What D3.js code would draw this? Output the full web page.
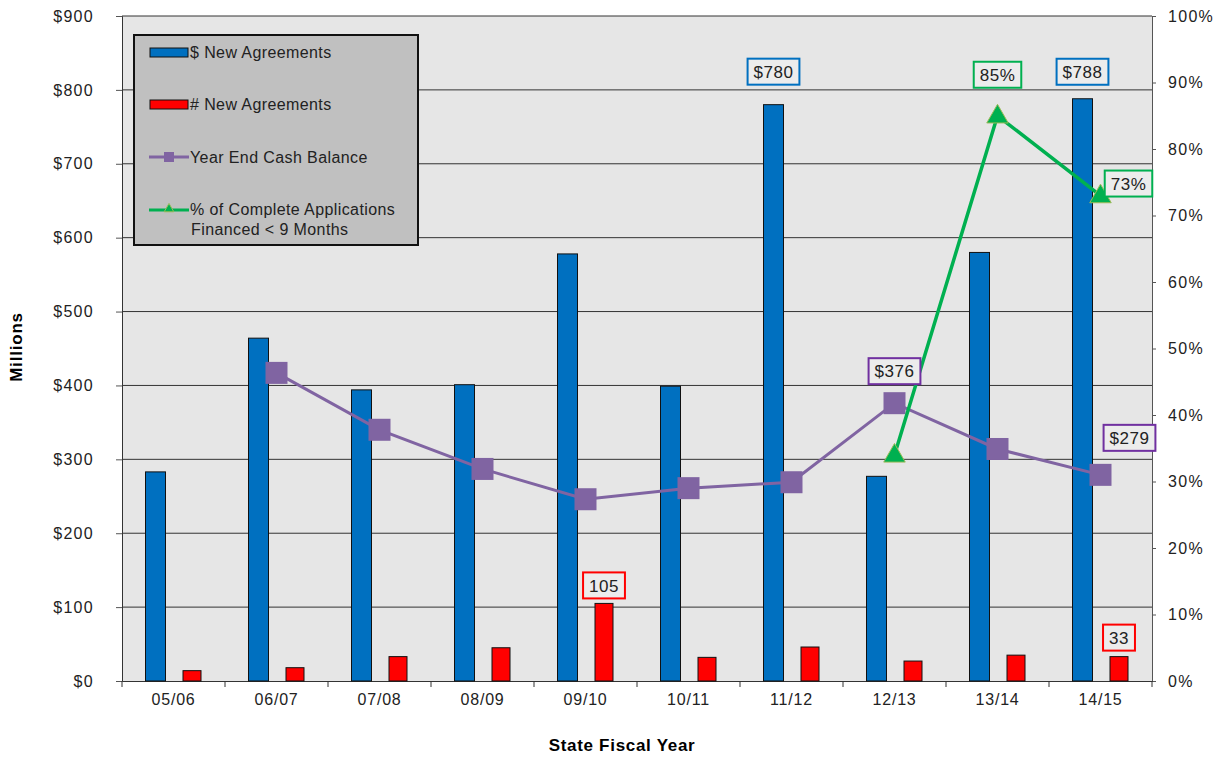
<!DOCTYPE html>
<html>
<head>
<meta charset="utf-8">
<script src="https://cdn.jsdelivr.net/npm/d3@7"></script>
<style>
  body { margin: 0; background: #fff; }
  text { font-family: "Liberation Sans", Arial, sans-serif; }
</style>
</head>
<body>
<svg id="chart" width="1220" height="760"></svg>
<script>
// data
var years = ["05/06", "06/07", "07/08", "08/09", "09/10", "10/11", "11/12", "12/13", "13/14", "14/15"];
var dollarNew = [283, 464, 394, 401, 578, 399, 780, 277, 580, 788];
var countNew = [14, 18, 33, 45, 105, 32, 46, 27, 35, 33];
var cashBalance = [null, 417, 340, 287, 246, 261, 269, 376, 314, 279];
var pctFinanced = [null, null, null, null, null, null, null, 34, 85, 73];
var leftTicks = [0, 100, 200, 300, 400, 500, 600, 700, 800, 900];
var rightTicks = [0, 10, 20, 30, 40, 50, 60, 70, 80, 90, 100];

var svg = d3.select("#chart");
var m = { left: 122, right: 1152, top: 16, bottom: 681 };

var x = d3.scaleBand().domain(years).range([m.left, m.right]);
var yL = d3.scaleLinear().domain([0, 900]).range([m.bottom, m.top]);
var yR = d3.scaleLinear().domain([0, 100]).range([m.bottom, m.top]);
var cx = d => x(d) + x.bandwidth() / 2;

// plot background
svg.append("rect")
    .attr("x", m.left).attr("y", m.top)
    .attr("width", m.right - m.left).attr("height", m.bottom - m.top)
    .attr("fill", "#e6e6e6");

// gridlines
svg.append("g").selectAll("line")
    .data(leftTicks.filter(d => d > 0))
    .enter().append("line")
    .attr("x1", m.left).attr("x2", m.right)
    .attr("y1", d => yL(d)).attr("y2", d => yL(d))
    .attr("stroke", "#333").attr("stroke-width", 1);

// axes
var axL = svg.append("g").attr("transform", "translate(" + m.left + ",0)")
    .call(d3.axisLeft(yL).tickValues(leftTicks).tickFormat(d => "$" + d).tickSize(6).tickPadding(22));
var axR = svg.append("g").attr("transform", "translate(" + m.right + ",0)")
    .call(d3.axisRight(yR).tickValues(rightTicks).tickFormat(d => d + "%").tickSize(4).tickPadding(12));
var axB = svg.append("g").attr("transform", "translate(0," + m.bottom + ")")
    .call(d3.axisBottom(x).tickSize(0).tickPadding(13));

[axL, axR, axB].forEach(function (g) {
    g.select(".domain").attr("stroke", "#555");
    g.selectAll(".tick line").attr("stroke", "#555");
    g.selectAll("text").attr("font-size", 16).attr("fill", "#222")
        .attr("font-family", "Liberation Sans, Arial, sans-serif").attr("letter-spacing", "1.3px");
});
axB.selectAll("text").attr("letter-spacing", "0.8px");
axL.select(".domain").attr("stroke", "#333");
axB.select(".domain").attr("stroke", "#333");

// x axis ticks at band boundaries
svg.append("g").selectAll("line")
    .data(years.concat(["end"]))
    .enter().append("line")
    .attr("x1", (d, i) => m.left + i * x.bandwidth())
    .attr("x2", (d, i) => m.left + i * x.bandwidth())
    .attr("y1", m.bottom).attr("y2", m.bottom + 6)
    .attr("stroke", "#333");

// bars
var bw = 20;
svg.append("g").selectAll("rect")
    .data(dollarNew)
    .enter().append("rect")
    .attr("x", (d, i) => cx(years[i]) - 28)
    .attr("y", d => yL(d))
    .attr("width", bw)
    .attr("height", d => yL(0) - yL(d))
    .attr("fill", "#0070c0").attr("stroke", "#111").attr("stroke-width", 1);

svg.append("g").selectAll("rect")
    .data(countNew)
    .enter().append("rect")
    .attr("x", (d, i) => cx(years[i]) + 9.5)
    .attr("y", d => yL(d))
    .attr("width", 18)
    .attr("height", d => yL(0) - yL(d))
    .attr("fill", "#ff0000").attr("stroke", "#111").attr("stroke-width", 1);

// cash balance line
var cashPts = years.map((d, i) => [d, cashBalance[i]]).filter(d => d[1] != null);
svg.append("path")
    .datum(cashPts)
    .attr("fill", "none").attr("stroke", "#8064a2").attr("stroke-width", 3)
    .attr("d", d3.line().x(d => cx(d[0])).y(d => yL(d[1])));
svg.append("g").selectAll("rect")
    .data(cashPts)
    .enter().append("rect")
    .attr("x", d => cx(d[0]) - 11).attr("y", d => yL(d[1]) - 11)
    .attr("width", 22).attr("height", 22)
    .attr("fill", "#8064a2");

// % financed line
var pctPts = years.map((d, i) => [d, pctFinanced[i]]).filter(d => d[1] != null);
svg.append("path")
    .datum(pctPts)
    .attr("fill", "none").attr("stroke", "#00b050").attr("stroke-width", 3.5)
    .attr("d", d3.line().x(d => cx(d[0])).y(d => yR(d[1])));
svg.append("g").selectAll("path")
    .data(pctPts)
    .enter().append("path")
    .attr("d", d3.symbol().type(d3.symbolTriangle).size(200))
    .attr("transform", d => "translate(" + cx(d[0]) + "," + (yR(d[1]) + 1) + ")")
    .attr("fill", "#00b050").attr("stroke", "#9bbb59").attr("stroke-width", 1);

// data labels
function boxLabel(txt, px, py, color) {
    var g = svg.append("g");
    var t = g.append("text").attr("x", px).attr("y", py).attr("dy", "0.36em")
        .attr("text-anchor", "middle").attr("font-size", 17).attr("letter-spacing", "0.5px")
        .attr("fill", "#222").text(txt);
    var w = t.node().getComputedTextLength() + 12;
    g.insert("rect", "text")
        .attr("x", px - w / 2).attr("y", py - 13).attr("width", w).attr("height", 26)
        .attr("fill", "#ececec").attr("stroke", color).attr("stroke-width", 2);
}
boxLabel("$" + dollarNew[6], cx(years[6]) - 18, yL(dollarNew[6]) - 33, "#0070c0");
boxLabel("$" + dollarNew[9], cx(years[9]) - 18, yL(dollarNew[9]) - 27, "#0070c0");
boxLabel(countNew[4], cx(years[4]) + 18.5, yL(countNew[4]) - 18, "#ff0000");
boxLabel(countNew[9], cx(years[9]) + 18.5, yL(countNew[9]) - 19, "#ff0000");
boxLabel("$" + cashBalance[7], cx(years[7]), yL(cashBalance[7]) - 32, "#7030a0");
boxLabel("$" + cashBalance[9], cx(years[9]) + 29, yL(cashBalance[9]) - 37, "#7030a0");
boxLabel(pctFinanced[8] + "%", cx(years[8]), yR(pctFinanced[8]) - 41, "#00b050");
boxLabel(pctFinanced[9] + "%", cx(years[9]) + 28, yR(pctFinanced[9]) - 12, "#00b050");

// legend
var lg = svg.append("g");
lg.append("rect").attr("x", 134).attr("y", 35).attr("width", 284).attr("height", 210)
    .attr("fill", "#c0c0c0").attr("stroke", "#111").attr("stroke-width", 2);
var legendNames = ["$ New Agreements", "# New Agreements", "Year End Cash Balance", "% of Complete Applications"];
var legendY = [52, 104, 157, 209];
lg.append("rect").attr("x", 150).attr("y", 48).attr("width", 38).attr("height", 9)
    .attr("fill", "#0070c0").attr("stroke", "#111");
lg.append("rect").attr("x", 150).attr("y", 100).attr("width", 38).attr("height", 9)
    .attr("fill", "#ff0000").attr("stroke", "#111");
lg.append("line").attr("x1", 149).attr("x2", 189).attr("y1", 157).attr("y2", 157)
    .attr("stroke", "#8064a2").attr("stroke-width", 3);
lg.append("rect").attr("x", 164).attr("y", 152).attr("width", 10).attr("height", 10).attr("fill", "#8064a2");
lg.append("line").attr("x1", 149).attr("x2", 189).attr("y1", 210).attr("y2", 210)
    .attr("stroke", "#00b050").attr("stroke-width", 3);
lg.append("path").attr("d", d3.symbol().type(d3.symbolTriangle).size(40))
    .attr("transform", "translate(169,209)").attr("fill", "#00b050").attr("stroke", "#9bbb59");
lg.selectAll("text.item")
    .data(legendNames)
    .enter().append("text")
    .attr("x", 190).attr("y", (d, i) => legendY[i]).attr("dy", "0.36em")
    .attr("font-size", 16).attr("letter-spacing", "0.4px").attr("fill", "#222").text(d => d);
lg.append("text").attr("x", 191).attr("y", 229).attr("dy", "0.36em")
    .attr("font-size", 16).attr("letter-spacing", "0.4px").attr("fill", "#222").text("Financed < 9 Months");

// axis titles
svg.append("text")
    .attr("transform", "translate(22,347) rotate(-90)")
    .attr("text-anchor", "middle").attr("font-size", 17).attr("font-weight", "bold")
    .attr("letter-spacing", "0.8px").attr("fill", "#000")
    .text("Millions");
svg.append("text")
    .attr("x", 622).attr("y", 751)
    .attr("text-anchor", "middle").attr("font-size", 17).attr("font-weight", "bold")
    .attr("letter-spacing", "0.7px").attr("fill", "#000")
    .text("State Fiscal Year");
</script>
</body>
</html>
